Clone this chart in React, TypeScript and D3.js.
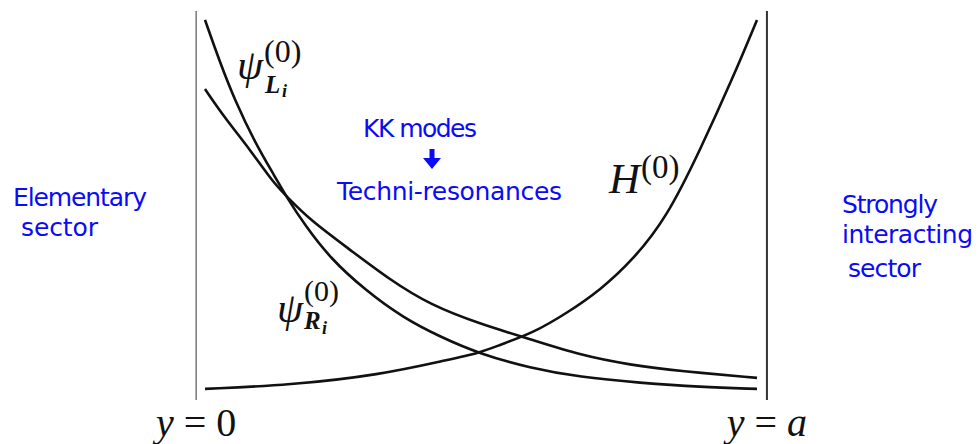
import React from "react";
import * as d3 from "d3";

// positions along the extra dimension (0 = y=0 brane, 1 = y=a brane)
const psiLx = [0, 0.027, 0.054, 0.091, 0.127, 0.149, 0.181, 0.226, 0.29, 0.359, 0.426, 0.498, 0.589, 0.679, 0.788, 0.897, 1];
const psiLv = [0.987, 0.876, 0.776, 0.663, 0.574, 0.518, 0.447, 0.361, 0.276, 0.203, 0.153, 0.108, 0.071, 0.047, 0.032, 0.021, 0.016];

const psiRx = [0, 0.036, 0.082, 0.123, 0.149, 0.19, 0.263, 0.335, 0.408, 0.498, 0.589, 0.679, 0.77, 0.861, 1];
const psiRv = [0.805, 0.729, 0.645, 0.56, 0.521, 0.461, 0.382, 0.303, 0.237, 0.187, 0.147, 0.105, 0.079, 0.063, 0.045];

const hx = [0, 0.154, 0.317, 0.438, 0.498, 0.534, 0.594, 0.656, 0.716, 0.775, 0.837, 0.897, 0.957, 1];
const hv = [0.016, 0.026, 0.053, 0.092, 0.111, 0.132, 0.163, 0.216, 0.276, 0.355, 0.468, 0.645, 0.837, 0.987];

const walls = [-0.016, 1.018];
const wallLabels = ["0", "a"];

const BLUE = "#0b0bf5";
const SERIF = "'Liberation Serif', 'DejaVu Serif', serif";
const COMIC = "'Comic Sans MS', 'DejaVu Sans', sans-serif";

export default function App() {
  const x = d3.scaleLinear().domain([0, 1]).range([205, 757]);
  const y = d3.scaleLinear().domain([0, 1]).range([395, 15]);
  const line = d3
    .line<[number, number]>()
    .x((d) => x(d[0]))
    .y((d) => y(d[1]))
    .curve(d3.curveBasis);
  const series = [
    { xs: psiLx, vs: psiLv },
    { xs: psiRx, vs: psiRv },
    { xs: hx, vs: hv },
  ];
  return (
    <svg width={979} height={444} style={{ position: "absolute", left: 0, top: 0, background: "#fff" }}>
      {walls.map((w, i) => (
        <line key={i} x1={x(w)} x2={x(w)} y1={11} y2={400} stroke={i === 0 ? "#777" : "#333"} strokeWidth={i === 0 ? 1.5 : 2} />
      ))}
      {series.map((s, i) => (
        <path
          key={i}
          d={line(s.xs.map((v, j) => [v, s.vs[j]] as [number, number])) || ""}
          fill="none"
          stroke="#111"
          strokeWidth={2.6}
        />
      ))}
      {walls.map((w, i) => (
        <text key={i} x={x(w)} y={436} textAnchor="middle" fontFamily={SERIF} fontSize={40} fill="#111">
          <tspan fontStyle="italic">y</tspan>
          {" = "}
          <tspan fontStyle={i === 1 ? "italic" : "normal"}>{wallLabels[i]}</tspan>
        </text>
      ))}
      {/* psi_L label */}
      <g fontFamily={SERIF} fill="#111">
        <text x={237} y={79} fontSize={42} fontStyle="italic">ψ</text>
        <text x={264} y={62} fontSize={32}>(0)</text>
        <text x={265} y={93} fontSize={25} fontStyle="italic" fontWeight="bold">L</text>
        <text x={282} y={97} fontSize={18} fontStyle="italic" fontWeight="bold">i</text>
      </g>
      {/* psi_R label */}
      <g fontFamily={SERIF} fill="#111">
        <text x={277} y={322} fontSize={42} fontStyle="italic">ψ</text>
        <text x={304} y={301} fontSize={30}>(0)</text>
        <text x={304} y={329} fontSize={25} fontStyle="italic" fontWeight="bold">R</text>
        <text x={322} y={334} fontSize={18} fontStyle="italic" fontWeight="bold">i</text>
      </g>
      {/* H label */}
      <g fontFamily={SERIF} fill="#111">
        <text x={609} y={193} fontSize={43} fontStyle="italic">H</text>
        <text x={641} y={178} fontSize={33}>(0)</text>
      </g>
      {/* blue annotations */}
      <g fontFamily={COMIC} fill={BLUE} fontSize={25}>
        <text x={363} y={137} textLength={114}>KK modes</text>
        <text x={337} y={200} textLength={225}>Techni-resonances</text>
        <text x={13} y={206} textLength={134}>Elementary</text>
        <text x={21} y={236} textLength={77}>sector</text>
        <text x={842} y={213} textLength={96}>Strongly</text>
        <text x={842} y={243} textLength={131}>interacting</text>
        <text x={848} y={277} textLength={73}>sector</text>
      </g>
      <path d="M429.5,149 L434.5,149 L434.5,158 L441,158 L432,169 L423,158 L429.5,158 Z" fill={BLUE} />
    </svg>
  );
}
